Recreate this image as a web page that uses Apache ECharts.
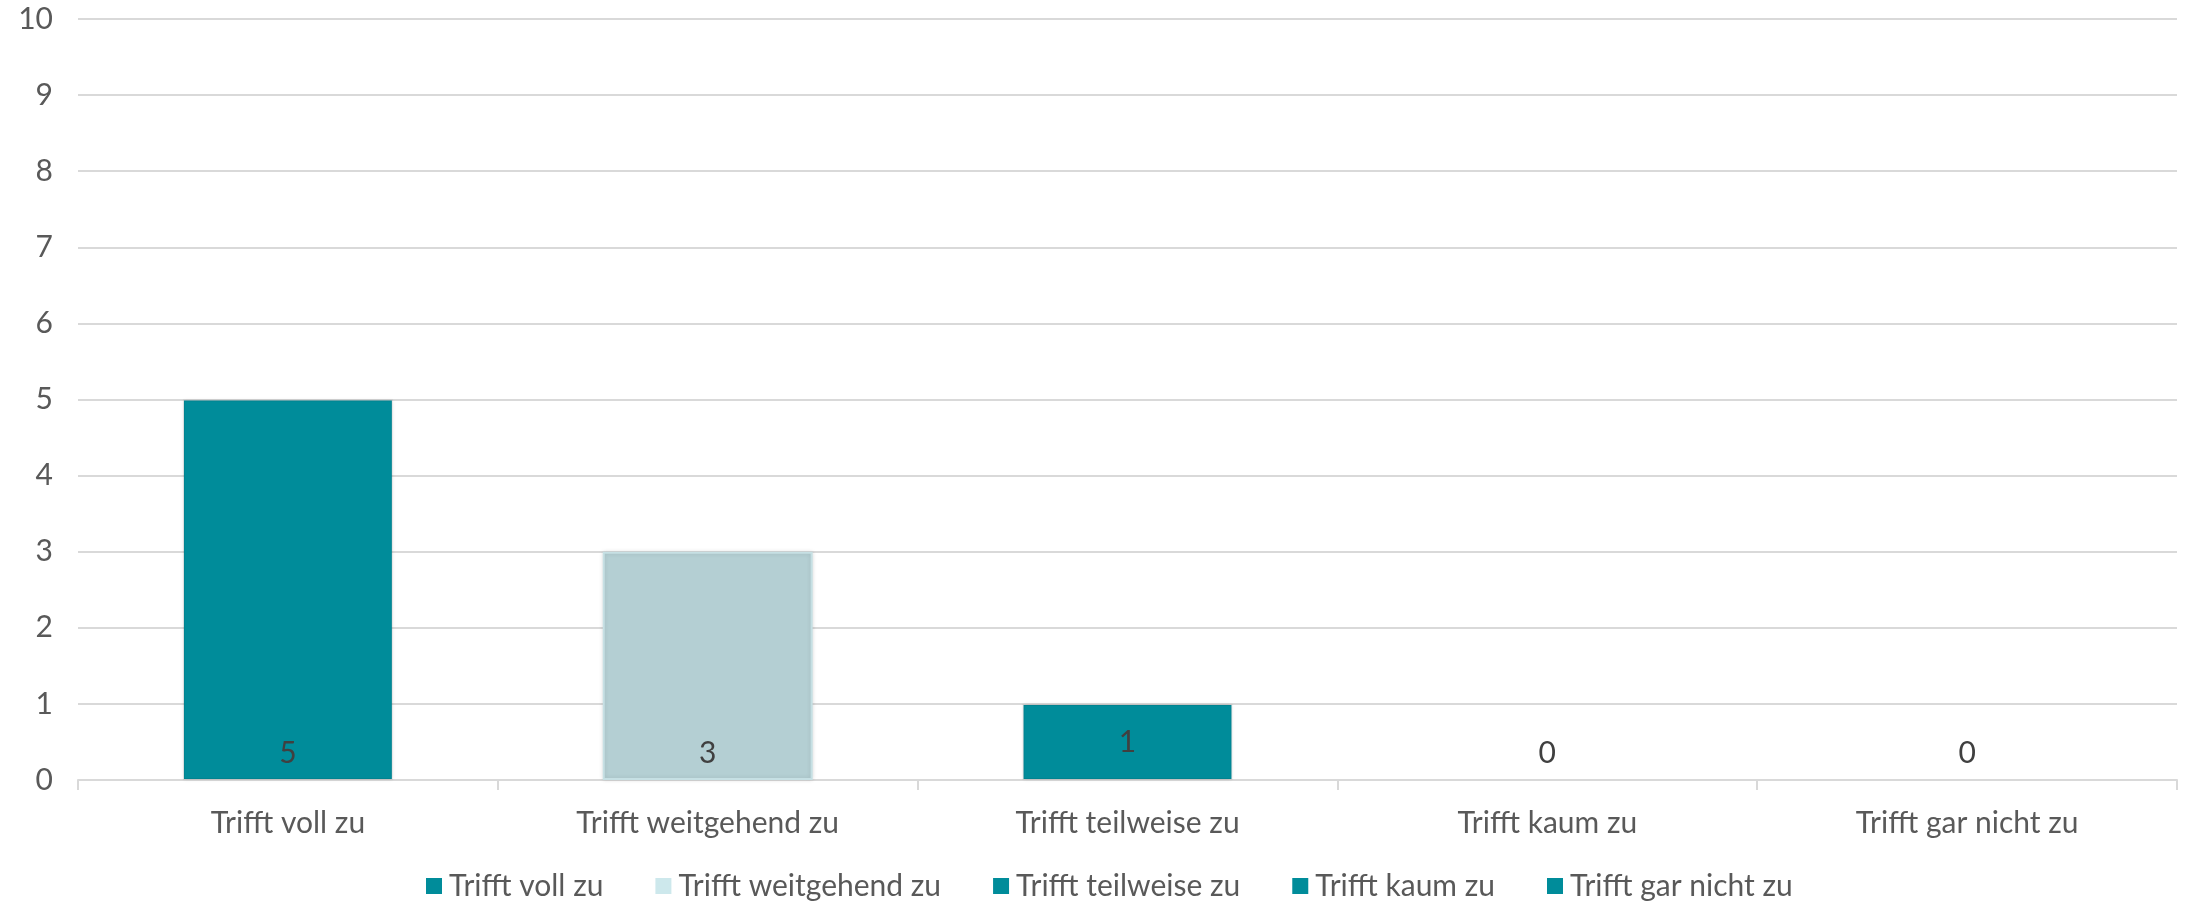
<!DOCTYPE html>
<html>
<head>
<meta charset="utf-8">
<script src="https://cdn.jsdelivr.net/npm/echarts@6/dist/echarts.min.js"></script>
<style>
html,body{margin:0;padding:0;background:#fff;}
#c{width:2188px;height:901px;}
</style>
</head>
<body>
<div id="c"></div>
<script>
var categories = ['Trifft voll zu', 'Trifft weitgehend zu', 'Trifft teilweise zu', 'Trifft kaum zu', 'Trifft gar nicht zu'];
var values = [5, 3, 1, 0, 0];
var yTicks = [0, 1, 2, 3, 4, 5, 6, 7, 8, 9, 10];

var barColors = ['#008C9A', '#B4CFD3', '#008C9A', '#008C9A', '#008C9A'];
var legendColors = ['#008C9A', '#CDE8EC', '#008C9A', '#008C9A', '#008C9A'];
var FONT = 'Lato';
var FS = 30;

var series = categories.map(function (name, i) {
  var data = categories.map(function (c, j) { return j === i ? values[i] : '-'; });
  var zero = values[i] === 0;
  return {
    name: name,
    type: 'bar',
    stack: 'total',
    barWidth: '50%',
    data: data,
    itemStyle: {
      color: barColors[i],
      borderColor: i === 1 ? '#C6E0E4' : 'rgba(0,0,0,0.06)',
      borderWidth: zero ? 0 : 2,
      shadowBlur: zero ? 0 : 4,
      shadowColor: 'rgba(0,0,0,0.12)'
    },
    label: {
      show: true,
      position: values[i] === 1 ? 'inside' : 'insideBottom',
      distance: 12,
      color: '#404040',
      fontFamily: FONT,
      fontSize: FS,
      formatter: function (p) { return p.value; }
    }
  };
});

var chart = echarts.init(document.getElementById('c'), null, {renderer: 'canvas'});
chart.setOption({
  animation: false,
  backgroundColor: '#fff',
  grid: {left: 78, right: 11, top: 19, bottom: 121, containLabel: false},
  legend: {
    data: categories.map(function (c, i) { return {name: c, itemStyle: {color: legendColors[i], borderWidth: 0, shadowBlur: 0}}; }),
    left: 421,
    top: 866,
    itemWidth: 16,
    itemHeight: 16,
    itemGap: 52,
    icon: 'rect',
    textStyle: {fontFamily: FONT, fontSize: FS, color: '#595959', padding: [0, 0, 0, 2]}
  },
  xAxis: {
    type: 'category',
    data: categories,
    boundaryGap: true,
    axisLine: {lineStyle: {color: '#D9D9D9', width: 2}},
    axisTick: {show: true, length: 10, lineStyle: {color: '#D9D9D9', width: 2}},
    axisLabel: {fontFamily: FONT, fontSize: FS, color: '#595959', margin: 28}
  },
  yAxis: {
    type: 'value',
    min: 0,
    max: 10,
    interval: 1,
    axisLine: {show: false},
    axisTick: {show: false},
    splitLine: {lineStyle: {color: '#D9D9D9', width: 2}},
    axisLabel: {
      fontFamily: FONT, fontSize: FS, color: '#595959', margin: 25,
      formatter: function (v) { return yTicks.indexOf(v) >= 0 ? String(v) : ''; }
    }
  },
  series: series
});
</script>
</body>
</html>
